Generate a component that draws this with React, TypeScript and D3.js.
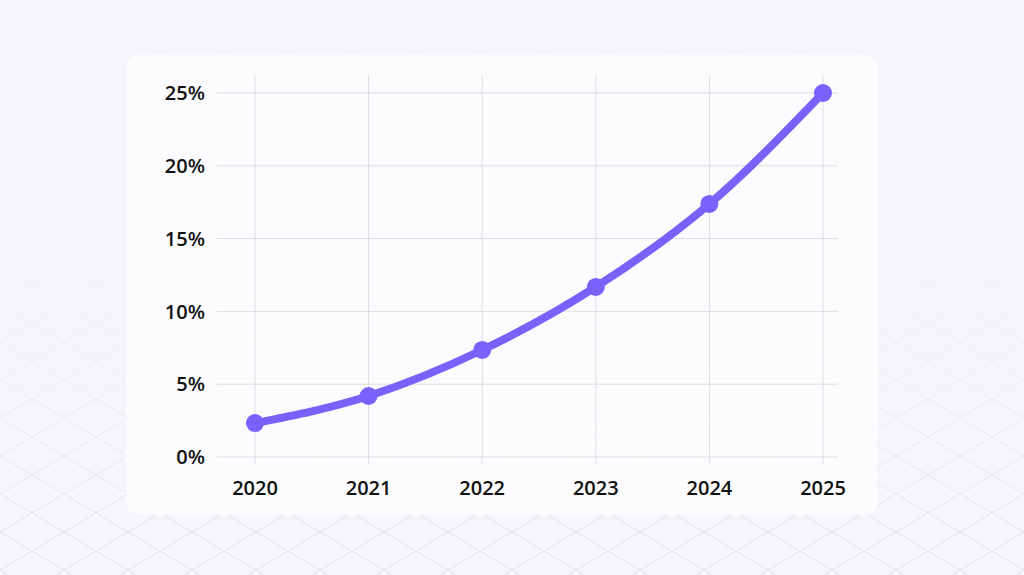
import React from "react";
import * as d3 from "d3";

const years = ["2020", "2021", "2022", "2023", "2024", "2025"];
const values = [2.33, 4.19, 7.35, 11.68, 17.38, 25];
const yTicks = [0, 5, 10, 15, 20, 25];

export default function App() {
  const W = 1024, H = 575;
  const x = d3.scalePoint<string>().domain(years).range([255, 823]);
  const y = d3.scaleLinear().domain([0, 25]).range([457, 93]);
  const line = d3.line<number>()
    .x((_, i) => x(years[i]) as number)
    .y((d) => y(d))
    .curve(d3.curveMonotoneX);
  const font = "'Open Sans', 'Noto Sans', sans-serif";
  return (
    <div style={{ position: "fixed", left: 0, top: 0 }}>
      <svg width={W} height={H} style={{ display: "block" }}>
        <defs>
          <pattern id="lat" width={64} height={38} patternUnits="userSpaceOnUse" x={0} y={0}>
            <path d="M0,0 L64,38 M64,0 L0,38 M-32,19 L0,38 M32,-19 L64,0 M-32,19 L0,0 M64,38 L96,19" stroke="#dcdce4" strokeWidth={1} fill="none" />
          </pattern>
          <linearGradient id="fade" x1="0" y1="0" x2="0" y2="1">
            <stop offset="0" stopColor="white" stopOpacity={0} />
            <stop offset="0.45" stopColor="white" stopOpacity={0.1} />
            <stop offset="1" stopColor="white" stopOpacity={0.9} />
          </linearGradient>
          <mask id="m">
            <rect width={W} height={H} fill="url(#fade)" />
          </mask>
        </defs>
        <rect width={W} height={H} fill="#f6f6fa" />
        <rect width={W} height={H} fill="url(#lat)" mask="url(#m)" />
        <rect x={126} y={55} width={752} height={460} rx={14} fill="#fdfdff" fillOpacity={0.9} />
        {yTicks.map((t) => (
          <line key={"h" + t} x1={217} x2={838} y1={y(t)} y2={y(t)} stroke="#dedee3" strokeWidth={1} />
        ))}
        {years.map((yr) => (
          <line key={"v" + yr} x1={x(yr)} x2={x(yr)} y1={75} y2={464} stroke="#dedee3" strokeWidth={1} />
        ))}
        {yTicks.map((t) => (
          <text key={"yt" + t} x={205} y={y(t)} dy="0.36em" textAnchor="end" fontFamily={font} fontWeight={600} fontSize={20} fill="#111">
            {t + "%"}
          </text>
        ))}
        {years.map((yr) => (
          <text key={"xt" + yr} x={x(yr)} y={488} dy="0.36em" textAnchor="middle" fontFamily={font} fontWeight={600} fontSize={20} fill="#111">
            {yr}
          </text>
        ))}
        <path d={line(values) || ""} fill="none" stroke="#7b61fa" strokeWidth={8} strokeLinecap="round" />
        {values.map((v, i) => (
          <circle key={"c" + i} cx={x(years[i])} cy={y(v)} r={9} fill="#7b61fa" />
        ))}
      </svg>
    </div>
  );
}
